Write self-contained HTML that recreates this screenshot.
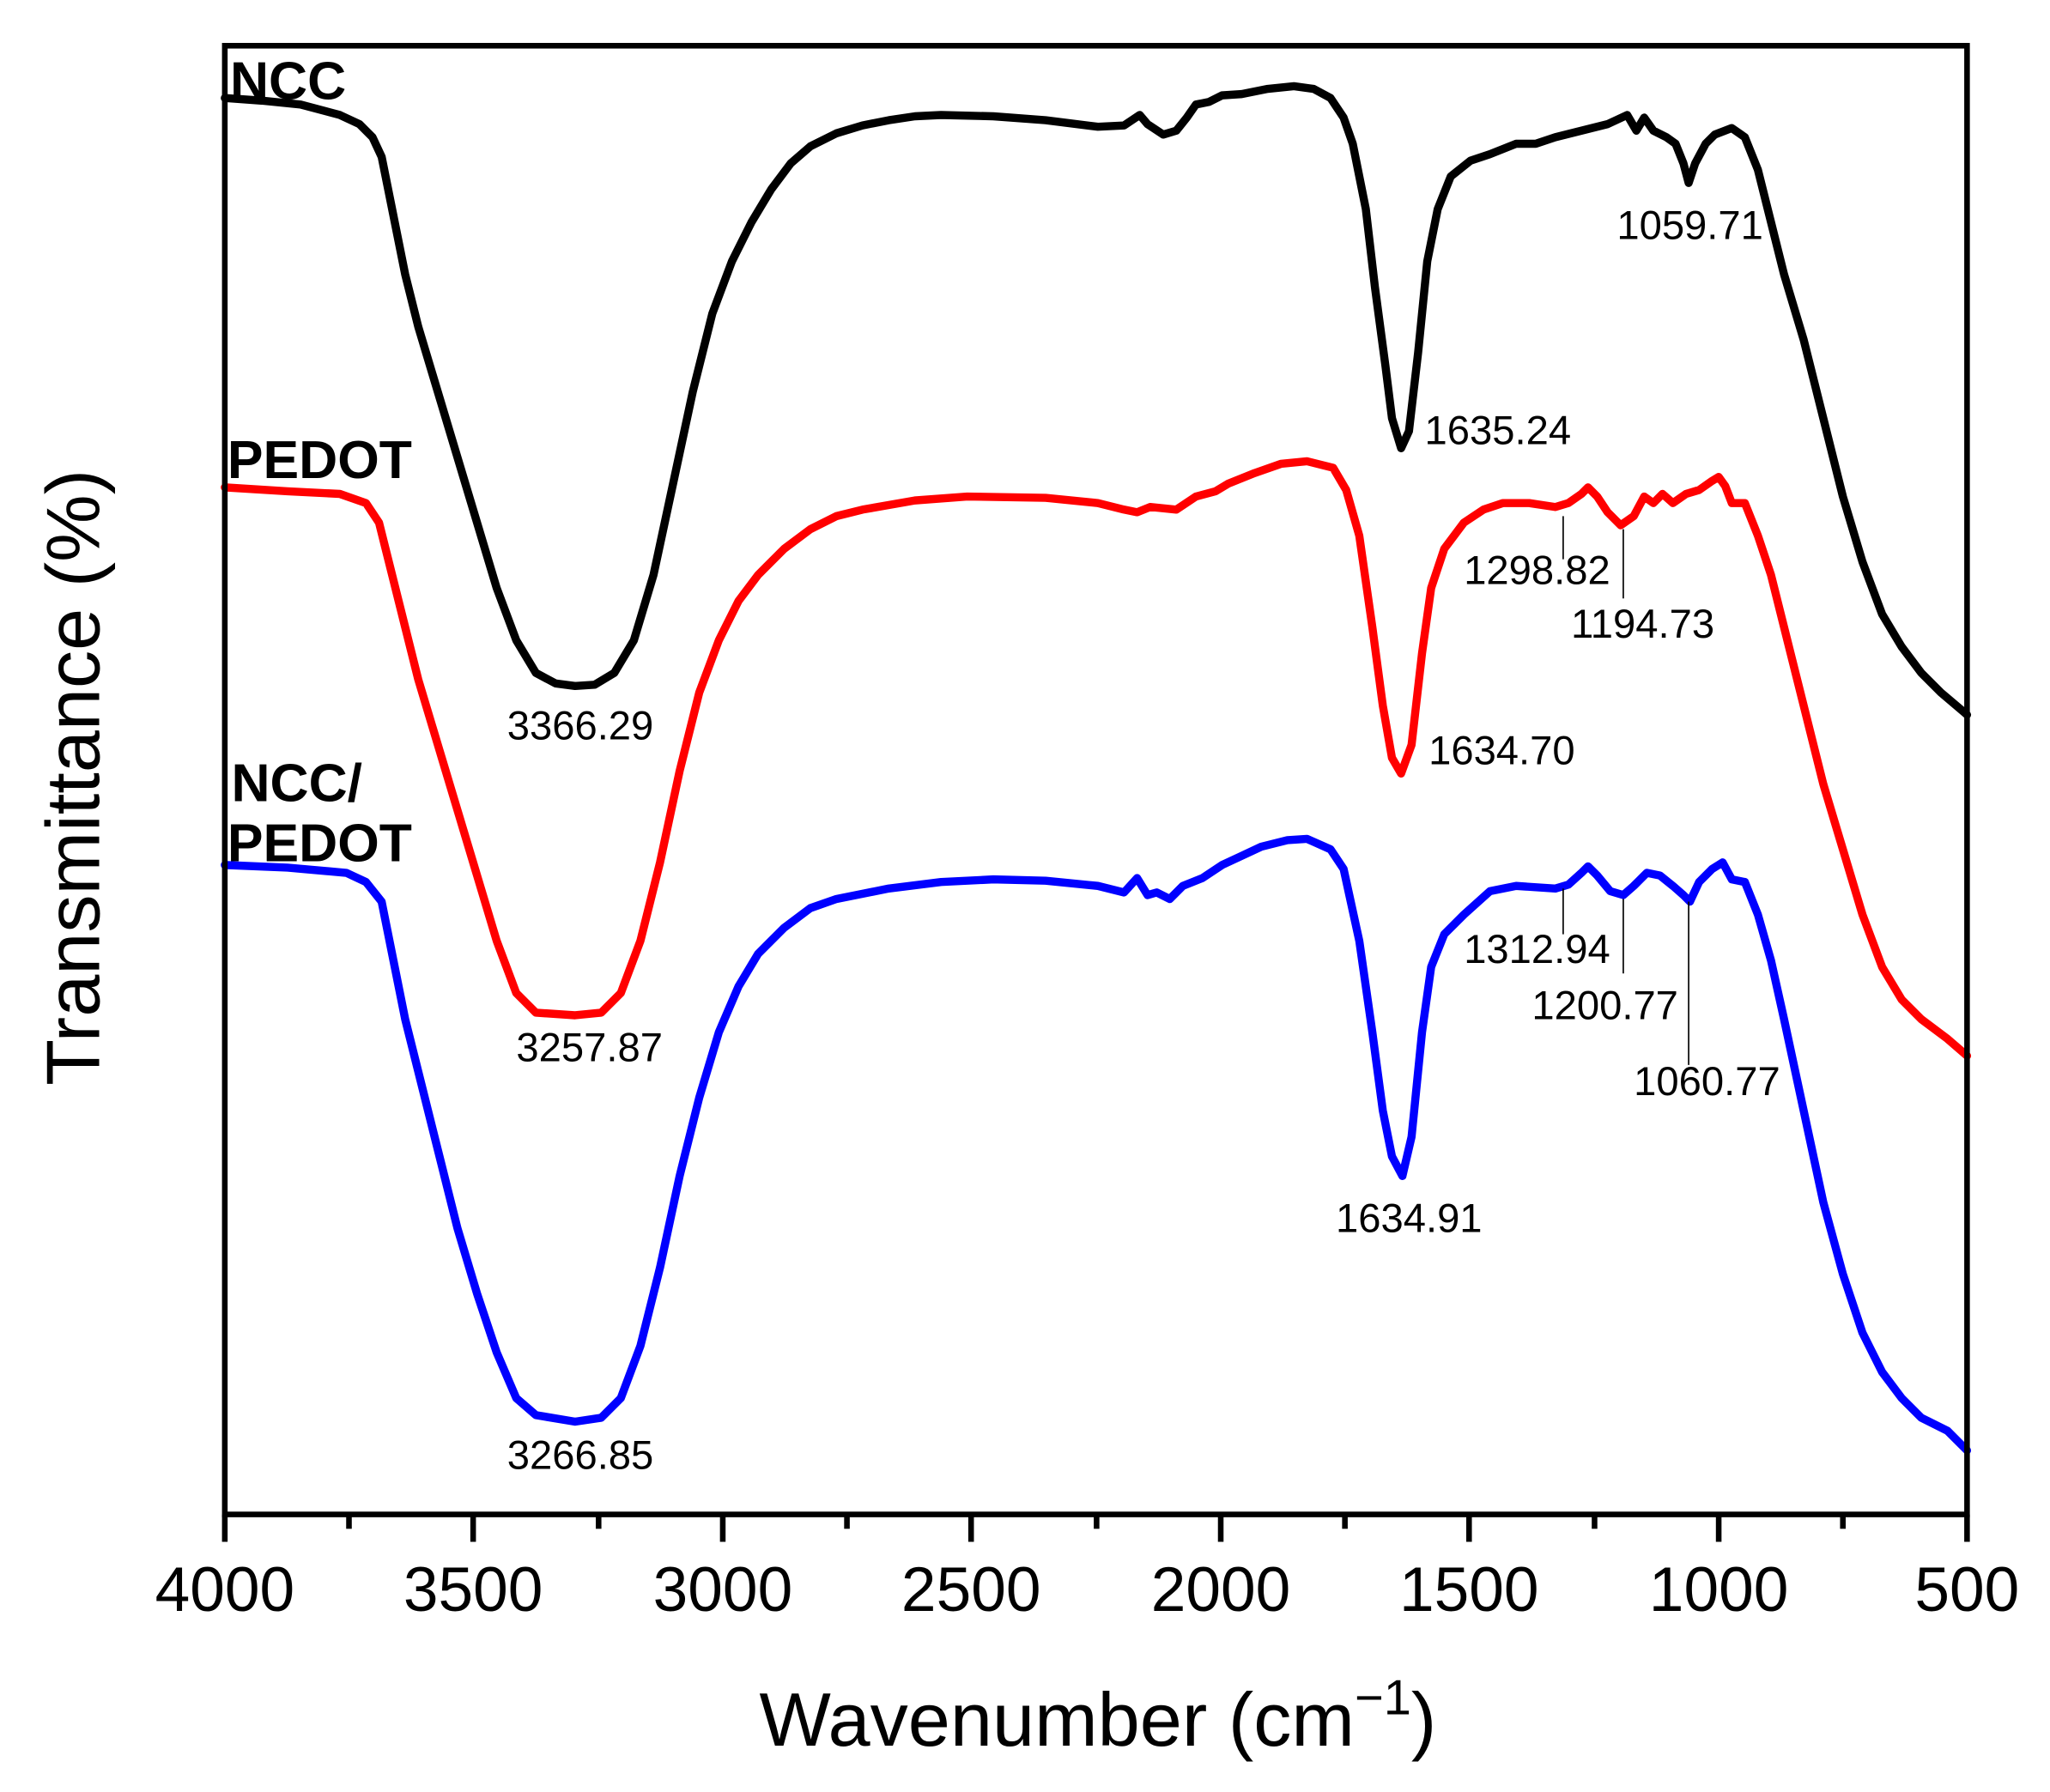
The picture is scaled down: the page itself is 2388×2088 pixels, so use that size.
<!DOCTYPE html>
<html><head><meta charset="utf-8"><style>html,body{margin:0;padding:0;background:#fff}svg{display:block}</style></head>
<body>
<svg width="2388" height="2088" viewBox="0 0 2388 2088" xmlns="http://www.w3.org/2000/svg">
<rect width="2388" height="2088" fill="#fff"/>
<g transform="matrix(1.5225 0 0 1.5225 0 0)" font-family="'Liberation Sans', Arial, sans-serif">
<g fill="none" stroke-width="6.2" stroke-linejoin="round" stroke-linecap="round">
<polyline stroke="#000" points="172,75 200,77 230,80 260,88 275,95 285,105 292,120 300,160 310,210 320,250 335,300 350,350 365,400 380,450 395,490 410,515 425,523 440,525 455,524 470,515 485,490 500,440 515,370 530,300 545,240 560,200 575,170 590,145 605,125 620,112 640,102 660,96 680,92 700,89 720,88 760,89 800,92 840,97 860,96 872,88 878,95 890,103 900,100 908,90 915,80 925,78 935,73 950,72 970,68 990,66 1005,68 1018,75 1028,90 1035,110 1045,160 1052,220 1060,280 1065,320 1072,343 1078,330 1085,270 1092,200 1100,160 1110,135 1125,123 1140,118 1160,110 1175,110 1190,105 1210,100 1230,95 1245,88 1252,100 1258,90 1265,100 1275,105 1282,110 1288,125 1292,140 1297,125 1305,110 1312,103 1325,98 1335,105 1345,130 1355,170 1365,210 1380,260 1395,320 1410,380 1425,430 1440,470 1455,495 1470,515 1485,530 1505,547"/>
<polyline stroke="#f00" points="172,373 220,376 260,378 280,385 290,400 300,440 310,480 320,520 335,570 350,620 365,670 380,720 395,760 410,775 440,777 460,775 475,760 490,720 505,660 520,590 535,530 550,490 565,460 580,440 600,420 620,405 640,395 660,390 700,383 740,380 800,381 840,385 860,390 870,392 880,388 900,390 915,380 930,376 940,370 960,362 980,355 1000,353 1020,358 1030,375 1040,410 1050,480 1058,540 1065,580 1072,592 1080,570 1088,500 1095,450 1105,420 1120,400 1135,390 1150,385 1170,385 1190,388 1200,385 1210,378 1215,373 1222,380 1230,392 1240,402 1250,395 1258,380 1265,385 1272,378 1280,385 1290,378 1300,375 1310,368 1315,365 1320,372 1325,385 1335,385 1345,410 1355,440 1365,480 1380,540 1395,600 1410,650 1425,700 1440,740 1455,765 1470,780 1490,795 1505,808"/>
<polyline stroke="#00f" points="172,662 220,664 265,668 280,675 292,690 300,730 310,780 320,820 335,880 350,940 365,990 380,1035 395,1070 410,1083 440,1088 460,1085 475,1070 490,1030 505,970 520,900 535,840 550,790 565,755 580,730 600,710 620,695 640,688 680,680 720,675 760,673 800,674 840,678 860,683 870,672 878,685 885,683 895,688 905,678 920,672 935,662 950,655 965,648 985,643 1000,642 1018,650 1028,665 1040,720 1050,790 1058,850 1065,885 1073,900 1080,870 1088,790 1095,740 1105,715 1120,700 1140,682 1160,678 1190,680 1200,677 1210,668 1215,663 1222,670 1232,682 1242,685 1250,678 1260,668 1270,670 1280,678 1288,685 1293,690 1300,675 1310,665 1318,660 1325,673 1335,675 1345,700 1355,735 1365,780 1380,850 1395,920 1410,975 1425,1020 1440,1050 1455,1070 1470,1085 1490,1095 1505,1110"/>
</g>
<g stroke="#000" stroke-width="1.1">
<line x1="1196" y1="395" x2="1196" y2="428"/><line x1="1242" y1="405" x2="1242" y2="458"/>
<line x1="1196" y1="680" x2="1196" y2="715"/><line x1="1242" y1="688" x2="1242" y2="745"/><line x1="1292" y1="690" x2="1292" y2="815"/>
</g>
<rect x="172" y="35" width="1333" height="1124" fill="none" stroke="#000" stroke-width="4.3"/>
<g stroke="#000" stroke-width="4.3">
<line x1="172" y1="1159" x2="172" y2="1180"/><line x1="362" y1="1159" x2="362" y2="1180"/><line x1="553" y1="1159" x2="553" y2="1180"/><line x1="743" y1="1159" x2="743" y2="1180"/><line x1="934" y1="1159" x2="934" y2="1180"/><line x1="1124" y1="1159" x2="1124" y2="1180"/><line x1="1315" y1="1159" x2="1315" y2="1180"/><line x1="1505" y1="1159" x2="1505" y2="1180"/>
<line x1="267" y1="1159" x2="267" y2="1170"/><line x1="458" y1="1159" x2="458" y2="1170"/><line x1="648" y1="1159" x2="648" y2="1170"/><line x1="839" y1="1159" x2="839" y2="1170"/><line x1="1029" y1="1159" x2="1029" y2="1170"/><line x1="1220" y1="1159" x2="1220" y2="1170"/><line x1="1410" y1="1159" x2="1410" y2="1170"/>
</g>
<g font-size="48" text-anchor="middle" fill="#000">
<text x="172" y="1233">4000</text><text x="362" y="1233">3500</text><text x="553" y="1233">3000</text><text x="743" y="1233">2500</text><text x="934" y="1233">2000</text><text x="1124" y="1233">1500</text><text x="1315" y="1233">1000</text><text x="1505" y="1233">500</text>
</g>
<text x="840" y="1336" font-size="58" text-anchor="middle">Wavenumber (cm<tspan dy="-24" font-size="38">−1</tspan><tspan dy="24">)</tspan></text>
<text transform="translate(76,595) rotate(-90)" font-size="58" text-anchor="middle">Transmittance (%)</text>
<g font-weight="bold" font-size="41">
<text x="176" y="76">NCC</text><text x="174" y="366">PEDOT</text><text x="177" y="613">NCC/</text><text x="174" y="659">PEDOT</text>
</g>
<g font-size="31">
<text x="1237" y="183">1059.71</text><text x="1090" y="340">1635.24</text><text x="388" y="566">3366.29</text>
<text x="1120" y="447">1298.82</text><text x="1202" y="488">1194.73</text><text x="1093" y="585">1634.70</text><text x="395" y="812">3257.87</text>
<text x="1120" y="737">1312.94</text><text x="1172" y="780">1200.77</text><text x="1250" y="838">1060.77</text><text x="1022" y="943">1634.91</text><text x="388" y="1124">3266.85</text>
</g>
</g>
</svg>
</body></html>
